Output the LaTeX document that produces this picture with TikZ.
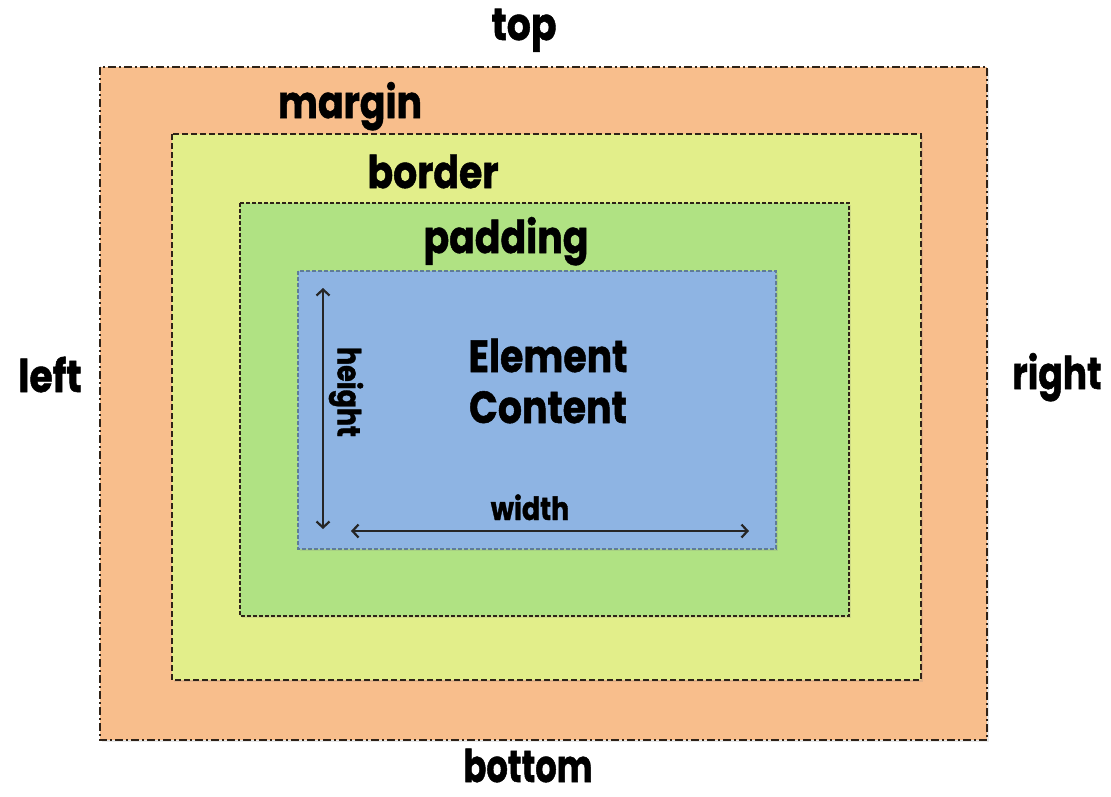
\documentclass[tikz,border=0pt]{standalone}
\usepackage{fontspec}
\setmainfont{Poppins}[BoldFont={* Bold}, BoldFeatures={FakeBold=1.2}]
\usetikzlibrary{arrows.meta,shadows}
\definecolor{marginfill}{HTML}{F8BE8C}
\definecolor{borderfill}{HTML}{E2EE8A}
\definecolor{paddingfill}{HTML}{B0E283}
\definecolor{contentfill}{HTML}{8EB4E3}
\definecolor{edge}{HTML}{2E2218}
\definecolor{contentedge}{HTML}{5F7C98}
\newcommand{\narrow}[2][0.84]{\scalebox{#1}[1]{#2}}
\tikzset{
  layer/.style={draw=edge, drop shadow={shadow xshift=1.5pt, shadow yshift=-1.5pt, opacity=0.18}},
  lbl/.style={font=\bfseries\fontsize{45}{47}\selectfont, inner sep=0pt, text=black, anchor=base},
  small/.style={font=\bfseries\fontsize{32}{34}\selectfont, inner sep=0pt, text=black},
  dim/.style={line width=2.2pt, draw=black!85, {Straight Barb[length=6pt,width=13pt,line width=2.2pt]}-{Straight Barb[length=6pt,width=13pt,line width=2.2pt]}}
}
\begin{document}
\begin{tikzpicture}[x=1pt,y=-1pt]
\useasboundingbox (0,0) rectangle (1111,796);
% nested boxes, outermost first
\draw[layer, fill=marginfill, line width=1.6pt, dash pattern=on 8pt off 3pt on 2pt off 3pt] (100,67) rectangle (987,740);
\draw[layer, fill=borderfill, line width=1.8pt, dash pattern=on 6pt off 3pt] (172,134) rectangle (921,680);
\draw[layer, fill=paddingfill, line width=1.2pt, dash pattern=on 4pt off 2pt] (240,203) rectangle (849,616);
\draw[layer, fill=contentfill, draw=contentedge, line width=1.2pt, dash pattern=on 4pt off 2pt] (298,271) rectangle (776,549);
% side labels (placed by baseline)
\node[lbl] (top) at (524,40) {\narrow{top}};
\node[lbl] (bottom) at (528,782) {\narrow[0.75]{bottom}};
\node[lbl] (left) at (50,392) {\narrow{left}};
\node[lbl] (right) at (1057,389) {\narrow[0.8]{right}};
% layer labels
\node[lbl] (margin) at (350,118) {\narrow{margin}};
\node[lbl] (border) at (433,188) {\narrow{border}};
\node[lbl] (padding) at (506,253) {\narrow{padding}};
\node[lbl] (element) at (548,372) {\narrow{Element}};
\node[lbl] (content) at (548,423) {\narrow{Content}};
% dimension arrows
\coordinate (hTop) at (323,288);
\coordinate (hBot) at (323,529);
\coordinate (wL) at (351,531);
\coordinate (wR) at (749,531);
\draw[dim] (hTop) -- (hBot);
\draw[dim] (wL) -- (wR);
\node[small, rotate=-90] (height) at (346,392) {\narrow{height}};
\node[small, anchor=base] (width) at (530,520) {\narrow{width}};
\end{tikzpicture}
\end{document}
